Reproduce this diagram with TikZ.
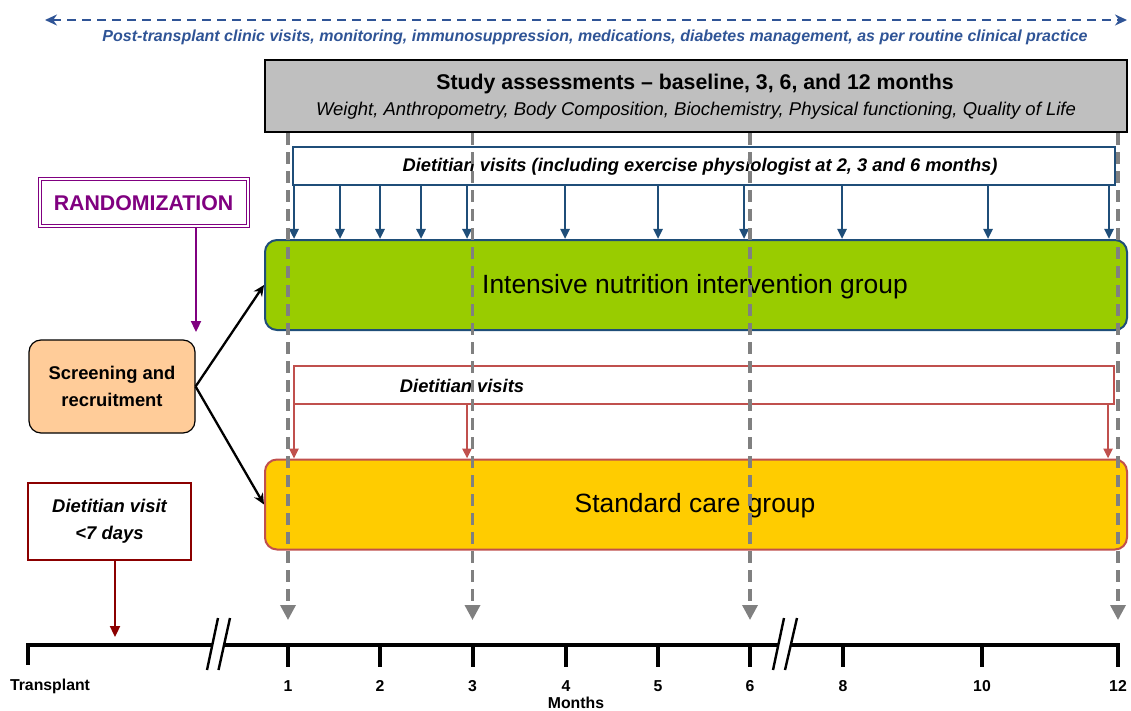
\documentclass[tikz,border=0pt]{standalone}
\usepackage{fontspec}
\setmainfont{Liberation Sans}
\usetikzlibrary{arrows.meta, positioning, calc}
\definecolor{navyBlue}{HTML}{2F5496}
\definecolor{boxBlue}{HTML}{1F4E79}
\definecolor{limeGreen}{HTML}{99CC00}
\definecolor{goldYellow}{HTML}{FFCC00}
\definecolor{brickRed}{HTML}{C0504D}
\definecolor{peachFill}{HTML}{FFCC99}
\definecolor{randPurple}{HTML}{800080}
\definecolor{darkRed}{HTML}{8B0000}
\definecolor{midGray}{HTML}{808080}
\definecolor{lightGray}{HTML}{BFBFBF}
\newcommand{\fsz}[2]{\fontsize{#1}{#2}\selectfont}
\tikzset{
  visitbox/.style={rectangle, line width=2.3pt, fill=white, minimum height=38pt},
  groupbox/.style={rectangle, rounded corners=12pt, line width=2pt,
                   minimum width=862pt, minimum height=90pt},
  grouptext/.style={font=\fsz{26.4}{30}},
  visittext/.style={font=\bfseries\itshape\fsz{18.3}{22}},
  visitArrow/.style={-{Triangle[length=10pt, width=9pt]}, line width=2.4pt},
  assessArrow/.style={-{Triangle[length=15pt, width=15pt]}, midGray,
                      line width=3.4pt, dash pattern=on 12pt off 7pt},
  linkArrow/.style={-{Stealth[length=11pt, width=10pt]}, line width=2.3pt},
  axisline/.style={line width=4pt},
  axistick/.style={line width=4pt},
  axisbreak/.style={line width=2.4pt},
  axislabel/.style={font=\bfseries\fsz{15.8}{19}},
}

\begin{document}
\begin{tikzpicture}[x=1pt, y=-1pt]
    \useasboundingbox (0,0) rectangle (1131,711);
    % routine care over the whole period
    \coordinate (careL) at (45,20);
    \coordinate (careR) at (1127,20);
    \draw[{Stealth[length=12pt, width=11pt]}-{Stealth[length=12pt, width=11pt]},
          navyBlue, line width=2.6pt, dash pattern=on 9pt off 6pt] (careL) -- (careR);
    \node[text=navyBlue, font=\bfseries\itshape\fsz{16}{19}] (care) at (595,37)
      {Post-transplant clinic visits, monitoring, immunosuppression, medications, diabetes management, as per routine clinical practice};

    % study assessments
    \node[rectangle, draw=black, line width=2.3pt, fill=lightGray,
          minimum width=862pt, minimum height=72pt] (study) at (696,96) {};
    \node[font=\bfseries\fsz{21.3}{25}] (studytitle) at (695,84)
      {Study assessments -- baseline, 3, 6, and 12 months};
    \node[font=\itshape\fsz{18.5}{22}] (studysub) at (696,111)
      {Weight, Anthropometry, Body Composition, Biochemistry, Physical functioning, Quality of Life};

    % intervention arm
    \node[visitbox, draw=boxBlue, minimum width=822pt] (bluevisits) at (704,166) {};
    \node[visittext] (bluelabel) at (700,167)
      {Dietitian visits (including exercise physiologist at 2, 3 and 6 months)};
    \node[groupbox, draw=boxBlue, fill=limeGreen] (green) at (696,285) {};
    \node[grouptext] (greenlabel) at (695,287) {Intensive nutrition intervention group};
    \foreach \xx in {294,340,380,421,467,565,658,744,842,988,1109}
      \draw[visitArrow, boxBlue] ({\xx},0 |- bluevisits.south) -- ({\xx},0 |- green.north);

    % standard care arm
    \node[visitbox, draw=brickRed, minimum width=820pt] (redvisits) at (704,385) {};
    \node[visittext] (redlabel) at (462,386) {Dietitian visits};
    \node[groupbox, draw=brickRed, fill=goldYellow] (yellow) at (696,504.5) {};
    \node[grouptext] (yellowlabel) at (695,506) {Standard care group};
    \foreach \xx in {294,467,1108}
      \draw[visitArrow, brickRed] ({\xx},0 |- redvisits.south) -- ({\xx},0 |- yellow.north);

    % recruitment and randomization
    \node[rectangle, draw=randPurple, line width=1pt, double=white, double distance=2pt,
          minimum width=208pt, minimum height=47pt, text=randPurple,
          font=\bfseries\fsz{21.3}{25}] (rand) at (143.5,203) {RANDOMIZATION};
    \node[rectangle, rounded corners=12pt, draw=black, line width=1.2pt, fill=peachFill,
          minimum width=166pt, minimum height=93pt, align=center,
          font=\bfseries\fsz{18.4}{26.5}] (screen) at (112,386.5) {Screening and\\recruitment};
    \coordinate (randend) at (196,332);
    \draw[-{Triangle[length=11pt, width=10pt]}, randPurple, line width=2.3pt]
      (rand.south -| randend) -- (randend);
    \draw[linkArrow] (screen.east) -- (green.west);
    \draw[linkArrow] (screen.east) -- (yellow.west);

    % first dietitian visit
    \node[rectangle, draw=darkRed, line width=2.3pt, minimum width=163pt, minimum height=77pt,
          align=center, font=\bfseries\itshape\fsz{18.4}{27}] (diet7) at (109.5,521.5)
      {Dietitian visit\\<7 days};
    \coordinate (visit0) at (115,645);
    \draw[-{Triangle[length=11pt, width=10pt]}, darkRed, line width=2.3pt]
      (diet7.south -| visit0) -- ([yshift=8pt]visit0);

    % time axis
    \coordinate (tx) at (28,645);
    \draw[axisline] (tx) -- (212.5,645);
    \draw[axisline] (224,645) -- (778.5,645);
    \draw[axisline] (791,645) -- (1120,645);
    \draw[axisbreak] (207,670) -- (218,618);
    \draw[axisbreak] (218.5,670) -- (230,618);
    \draw[axisbreak] (773,670) -- (784,618);
    \draw[axisbreak] (785,670) -- (797,618);
    \draw[axistick] ([yshift=2pt]tx) -- ++(0,22);
    \node[axislabel] (labtx) at (50,686) {Transplant};
    \foreach \m/\xx in {1/288, 2/380, 3/472.5, 4/566, 5/658, 6/750, 8/843, 10/982, 12/1118}{
      \coordinate (m\m) at (\xx,645);
      \draw[axistick] (m\m) -- ++(0,22);
      \node[axislabel] (lab\m) at ([yshift=-41pt]m\m) {\m};
    }
    \node[axislabel, inner sep=0pt] (months) at (576,703) {Months};

    % assessment time points
    \foreach \m in {1,3,6,12}
      \draw[assessArrow] (m\m |- study.south) -- ([yshift=25pt]m\m);
\end{tikzpicture}
\end{document}
